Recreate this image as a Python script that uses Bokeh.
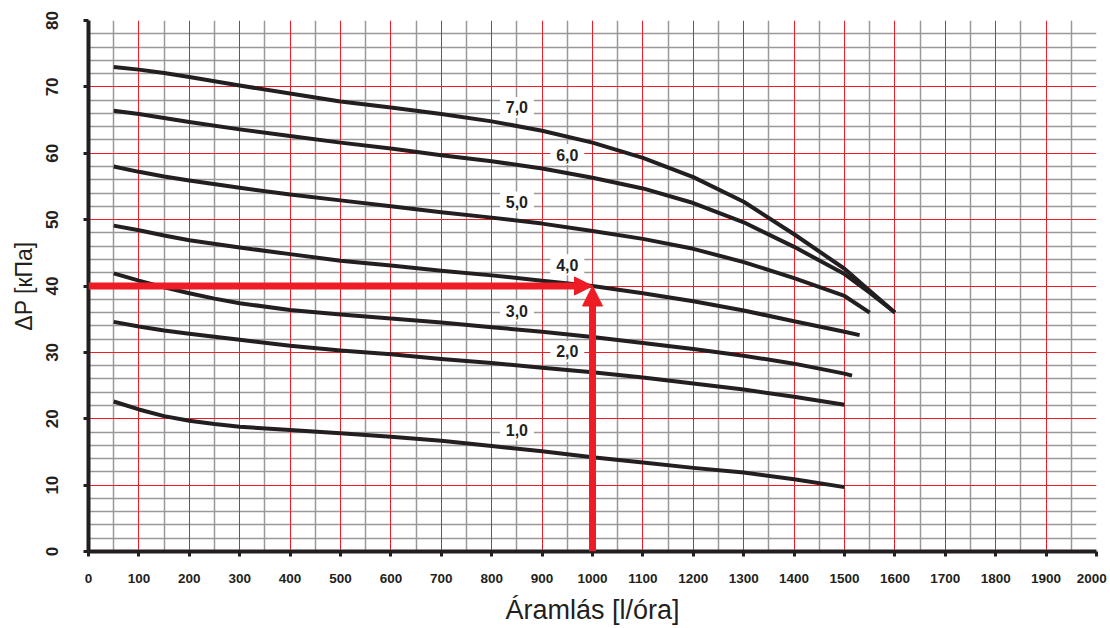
import numpy as np
from bokeh.plotting import figure
from bokeh.core.properties import value
from bokeh.models import (Range1d, FixedTicker, Grid, Arrow, NormalHead,
                          LabelSet, ColumnDataSource)
from bokeh.embed import file_html
from bokeh.resources import INLINE

# ---------------- data ----------------
curve_names = ["7,0", "6,0", "5,0", "4,0", "3,0", "2,0", "1,0"]

flow_7 = [50, 100, 150, 200, 300, 400, 500, 600, 700, 800, 900, 1000, 1100, 1200, 1300, 1400, 1500, 1550, 1600]
dp_7 = [73.0, 72.6, 72.1, 71.5, 70.2, 69.0, 67.8, 66.9, 65.9, 64.8, 63.4, 61.6, 59.3, 56.4, 52.7, 47.8, 42.6, 39.3, 36.0]

flow_6 = [50, 100, 150, 200, 300, 400, 500, 600, 700, 800, 900, 1000, 1100, 1200, 1300, 1400, 1500, 1550, 1600]
dp_6 = [66.4, 65.9, 65.3, 64.7, 63.6, 62.6, 61.6, 60.7, 59.7, 58.8, 57.7, 56.3, 54.7, 52.5, 49.6, 45.9, 41.8, 39.0, 36.0]

flow_5 = [50, 100, 150, 200, 300, 400, 500, 600, 700, 800, 900, 1000, 1100, 1200, 1300, 1400, 1500, 1550]
dp_5 = [58.0, 57.2, 56.5, 55.9, 54.8, 53.8, 52.9, 52.0, 51.1, 50.3, 49.4, 48.3, 47.1, 45.6, 43.6, 41.2, 38.5, 36.0]

flow_4 = [50, 100, 150, 200, 300, 400, 500, 600, 700, 800, 900, 1000, 1100, 1200, 1300, 1400, 1500, 1530]
dp_4 = [49.1, 48.4, 47.6, 46.9, 45.8, 44.8, 43.8, 43.1, 42.3, 41.6, 40.8, 40.0, 38.9, 37.7, 36.3, 34.7, 33.1, 32.6]

flow_3 = [50, 100, 150, 200, 250, 300, 400, 500, 600, 700, 800, 900, 1000, 1100, 1200, 1300, 1400, 1500, 1515]
dp_3 = [41.9, 40.8, 39.8, 38.9, 38.1, 37.4, 36.4, 35.7, 35.1, 34.5, 33.8, 33.1, 32.3, 31.4, 30.5, 29.5, 28.3, 26.8, 26.5]

flow_2 = [50, 100, 150, 200, 300, 400, 500, 600, 700, 800, 900, 1000, 1100, 1200, 1300, 1400, 1500]
dp_2 = [34.6, 33.9, 33.3, 32.8, 31.9, 31.0, 30.3, 29.7, 29.0, 28.4, 27.7, 27.0, 26.2, 25.3, 24.4, 23.3, 22.1]

flow_1 = [50, 100, 150, 200, 250, 300, 400, 500, 600, 700, 800, 900, 1000, 1100, 1200, 1300, 1400, 1500]
dp_1 = [22.6, 21.4, 20.4, 19.7, 19.2, 18.8, 18.3, 17.8, 17.3, 16.7, 15.9, 15.1, 14.2, 13.4, 12.6, 11.9, 10.9, 9.7]

x_ticks = list(range(0, 2001, 100))
y_ticks = list(range(0, 81, 10))

# reading example (red arrows)
example_flow = 1000
example_dp = 40

x_label = "Áramlás [l/óra]"
y_label = "ΔP [кПа]"

# ---------------- figure ----------------
BLACK = "#231f20"
RED = "#ee1c25"
GRAY = "#999999"
FONT = "Liberation Sans"

p = figure(width=1110, height=628, x_range=Range1d(0, 2000), y_range=Range1d(0, 80),
           output_backend="svg", toolbar_location=None,
           min_border_left=88, min_border_right=14, min_border_top=20, min_border_bottom=77)
p.outline_line_color = None
p.xgrid.visible = False
p.ygrid.visible = False
p.background_fill_color = "white"

# grids: gray minor lines, red major lines
gx_minor = [v for v in range(50, 2001, 50) if v % 100 != 0 or v == 2000]
gy_minor = [v for v in range(2, 81, 2) if v % 10 != 0 or v == 80]
gx_major = [v for v in range(100, 2000, 100)]
gy_major = [v for v in range(10, 80, 10)]

p.add_layout(Grid(dimension=0, ticker=FixedTicker(ticks=gx_minor), grid_line_color=GRAY, grid_line_width=1.5))
p.add_layout(Grid(dimension=1, ticker=FixedTicker(ticks=gy_minor), grid_line_color=GRAY, grid_line_width=1.5))
p.add_layout(Grid(dimension=0, ticker=FixedTicker(ticks=gx_major), grid_line_color=RED, grid_line_width=1))
p.add_layout(Grid(dimension=1, ticker=FixedTicker(ticks=gy_major), grid_line_color=RED, grid_line_width=1))

flows = [flow_7, flow_6, flow_5, flow_4, flow_3, flow_2, flow_1]
dps = [dp_7, dp_6, dp_5, dp_4, dp_3, dp_2, dp_1]

# curve labels (placed just above each curve)
lab_x, lab_y = [], []
for i, (fx, dy) in enumerate(zip(flows, dps)):
    lx = 850 if i % 2 == 0 else 950
    lab_x.append(lx)
    lab_y.append(float(np.interp(lx, fx, dy)) + 2.8)
src = ColumnDataSource(dict(x=lab_x, y=lab_y, t=curve_names))

# white boxes behind labels
p.rect(x="x", y="y", width=34, height=21, width_units="screen", height_units="screen",
       source=src, fill_color="white", line_color=None)

# curves
for fx, dy in zip(flows, dps):
    p.line(fx, dy, line_color=BLACK, line_width=4, line_join="round")

p.add_layout(LabelSet(x="x", y="y", text="t", source=src, text_align="center",
                      text_baseline="middle", text_font=value(FONT),
                      text_font_style="bold", text_font_size="16px", text_color=BLACK))

# red arrows
p.add_layout(Arrow(end=NormalHead(size=18, fill_color=RED, line_color=RED),
                   x_start=0, y_start=example_dp, x_end=example_flow, y_end=example_dp,
                   line_color=RED, line_width=7))
p.add_layout(Arrow(end=NormalHead(size=20, fill_color=RED, line_color=RED),
                   x_start=example_flow, y_start=0, x_end=example_flow, y_end=example_dp,
                   line_color=RED, line_width=7))

# axes
for ax in (p.xaxis[0], p.yaxis[0]):
    ax.axis_line_width = 4
    ax.axis_line_color = BLACK
    ax.major_tick_in = 0
    ax.major_tick_out = 5
    ax.major_tick_line_width = 3
    ax.major_tick_line_color = BLACK
    ax.minor_tick_line_color = None
    ax.major_label_text_font = FONT
    ax.major_label_text_font_style = "bold"
    ax.major_label_text_color = BLACK
    ax.axis_label_text_font = FONT
    ax.axis_label_text_font_style = "normal"
    ax.axis_label_text_color = BLACK

p.xaxis.ticker = FixedTicker(ticks=x_ticks)
p.xaxis.major_label_text_font_size = "13.5px"
p.xaxis.major_label_standoff = 14
p.xaxis.major_label_overrides = {2000: "2000\u00a0"}
p.xaxis.axis_label = x_label
p.xaxis.axis_label_text_font_size = "27px"
p.xaxis.axis_label_standoff = 6

p.yaxis.ticker = FixedTicker(ticks=y_ticks)
p.yaxis.major_label_orientation = "vertical"
p.yaxis.major_label_text_font_size = "17px"
p.yaxis.major_label_standoff = 26
p.yaxis.axis_label = y_label
p.yaxis.axis_label_text_font_size = "23px"
p.yaxis.axis_label_standoff = 6

open("out.html", "w").write(file_html(p, INLINE))
